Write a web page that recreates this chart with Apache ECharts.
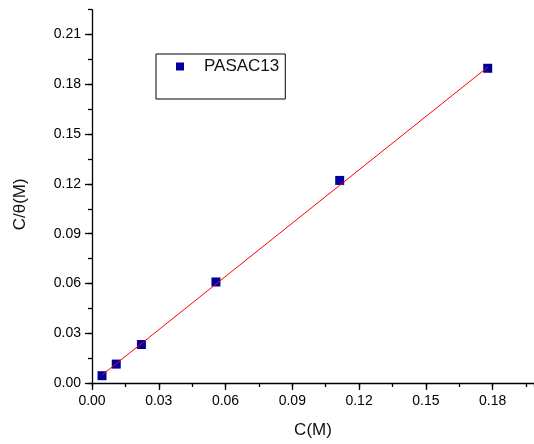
<!DOCTYPE html>
<html>
<head>
<meta charset="utf-8">
<script src="https://cdn.jsdelivr.net/npm/echarts@6/dist/echarts.min.js"></script>
<style>
html,body{margin:0;padding:0;background:#fff;}
#chart{width:534px;height:444px;}
</style>
</head>
<body>
<div id="chart"></div>
<script>
// Data
var seriesName = 'PASAC13';
var concC = [0.0045, 0.0109, 0.0222, 0.0557, 0.1113, 0.1778];
var ratioC = [0.0044, 0.0114, 0.0232, 0.0609, 0.1221, 0.1897];
var fitX = [0.0045, 0.1779];
var fitY = [0.0048, 0.1905];
var xTicks = [0.00, 0.03, 0.06, 0.09, 0.12, 0.15, 0.18];
var yTicks = [0.00, 0.03, 0.06, 0.09, 0.12, 0.15, 0.18, 0.21];

var scatterData = concC.map(function (c, i) { return [c, ratioC[i]]; });
var fitData = fitX.map(function (x, i) { return [x, fitY[i]]; });

var font = 'Liberation Sans, Arial, sans-serif';
var chart = echarts.init(document.getElementById('chart'), null, {renderer: 'canvas'});

function labelFmt(ticks) {
  return function (v) {
    for (var i = 0; i < ticks.length; i++) {
      if (Math.abs(ticks[i] - v) < 1e-9) return ticks[i].toFixed(2);
    }
    return '';
  };
}

var axisLineStyle = {show: true, lineStyle: {color: '#000', width: 1.3}};

chart.setOption({
  animation: false,
  backgroundColor: '#fff',
  grid: {left: 92, right: 0, top: 9.7, bottom: 58.3, containLabel: false},
  legend: {
    data: [seriesName],
    left: 156, top: 54,
    orient: 'vertical',
    backgroundColor: '#fff',
    borderColor: '#000', borderWidth: 1,
    padding: [4, 6, 24, 20],
    icon: 'rect', itemWidth: 8, itemHeight: 8,
    textStyle: {fontFamily: font, fontSize: 17, color: '#111', padding: [0, 0, 0, 15]}
  },
  xAxis: [{
    type: 'value', min: 0, max: 0.1986, interval: 0.03,
    name: 'C(M)', nameLocation: 'middle', nameGap: 39,
    nameTextStyle: {fontFamily: font, fontSize: 17, color: '#111'},
    axisLine: axisLineStyle,
    axisTick: {show: true, length: 7, lineStyle: {color: '#000', width: 1.3}},
    axisLabel: {fontFamily: font, fontSize: 14, color: '#000', margin: 11, formatter: labelFmt(xTicks), showMaxLabel: false},
    splitLine: {show: false}
  }, {
    type: 'value', min: 0, max: 0.1986, interval: 0.015, position: 'bottom',
    axisLine: {show: false},
    axisTick: {show: true, length: 4, lineStyle: {color: '#000', width: 1.3}},
    axisLabel: {show: false},
    splitLine: {show: false}
  }],
  yAxis: [{
    type: 'value', min: 0, max: 0.225, interval: 0.03,
    name: 'C/\u03b8(M)', nameLocation: 'middle', nameGap: 63, nameRotate: 90,
    nameTextStyle: {fontFamily: font, fontSize: 17, color: '#111', padding: [0, 16, 0, 0]},
    axisLine: axisLineStyle,
    axisTick: {show: true, length: 7, lineStyle: {color: '#000', width: 1.3}},
    axisLabel: {fontFamily: font, fontSize: 14, color: '#000', margin: 11, formatter: labelFmt(yTicks), showMaxLabel: false},
    splitLine: {show: false}
  }, {
    type: 'value', min: 0, max: 0.225, interval: 0.015, position: 'left',
    axisLine: {show: false},
    axisTick: {show: true, length: 4, lineStyle: {color: '#000', width: 1.3}},
    axisLabel: {show: false},
    splitLine: {show: false}
  }],
  series: [{
    name: seriesName,
    type: 'scatter',
    xAxisIndex: 0, yAxisIndex: 0,
    symbol: 'rect', symbolSize: 9,
    itemStyle: {color: '#00009c', opacity: 1},
    data: scatterData,
    z: 2
  }, {
    name: 'fit',
    type: 'line',
    xAxisIndex: 0, yAxisIndex: 0,
    showSymbol: false, symbol: 'none',
    lineStyle: {color: '#ff0000', width: 1},
    data: fitData,
    z: 3
  }]
});
</script>
</body>
</html>
